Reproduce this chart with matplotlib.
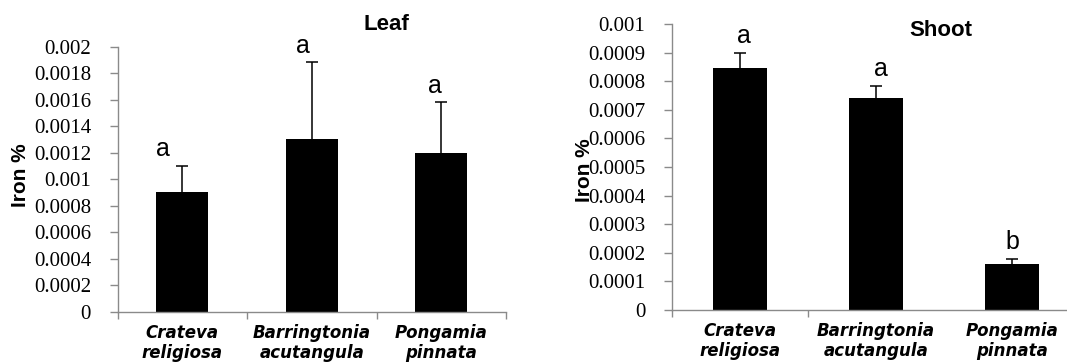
import matplotlib
matplotlib.use("Agg")
import matplotlib.pyplot as plt
import numpy as np

categories = ["Crateva\nreligiosa", "Barringtonia\nacutangula", "Pongamia\npinnata"]

leaf_values = [0.0009, 0.0013, 0.0012]
leaf_errors = [0.0002, 0.00058, 0.00038]
leaf_letters = ["a", "a", "a"]
leaf_yticks = [0, 0.0002, 0.0004, 0.0006, 0.0008, 0.001, 0.0012, 0.0014, 0.0016, 0.0018, 0.002]
leaf_yticklabels = ["0", "0.0002", "0.0004", "0.0006", "0.0008", "0.001", "0.0012",
                    "0.0014", "0.0016", "0.0018", "0.002"]

shoot_values = [0.000847, 0.000742, 0.00016]
shoot_errors = [0.000053, 0.000042, 0.00002]
shoot_letters = ["a", "a", "b"]
shoot_yticks = [0, 0.0001, 0.0002, 0.0003, 0.0004, 0.0005, 0.0006, 0.0007, 0.0008, 0.0009, 0.001]
shoot_yticklabels = ["0", "0.0001", "0.0002", "0.0003", "0.0004", "0.0005", "0.0006",
                     "0.0007", "0.0008", "0.0009", "0.001"]

W, H = 1067, 362
fig = plt.figure(figsize=(W / 100, H / 100), dpi=100)

SPINE = "#8a8a8a"


def px_axes(left, top, right, bottom):
    return fig.add_axes([left / W, 1 - bottom / H, (right - left) / W, (bottom - top) / H])


def draw(ax, values, errors, letters, yticks, yticklabels, ymax, title, title_xy,
         ylabel_xy, letter_dx, major_boundaries):
    x = np.arange(len(values))
    ax.bar(x, values, width=0.4, color="black", edgecolor="none", zorder=2)
    ax.errorbar(x, values, yerr=errors, fmt="none", ecolor="black", elinewidth=1.1,
                capsize=4, capthick=1.1, zorder=3)
    ax.set_ylim(0, ymax)
    ax.set_yticks(yticks)
    ax.set_yticklabels(yticklabels)
    for t in ax.get_yticklabels():
        t.set_fontfamily("Liberation Serif")
        t.set_fontsize(15)
    ax.set_xticks(x)
    ax.set_xticklabels(categories)
    for t in ax.get_xticklabels():
        t.set_fontfamily("DejaVu Sans")
        t.set_fontsize(12)
        t.set_fontweight("bold")
        t.set_fontstyle("italic")
        t.set_linespacing(1.1)
    ax.tick_params(axis="x", which="major", length=0, pad=9)
    ax.set_xticks(major_boundaries, minor=True)
    ax.tick_params(axis="x", which="minor", length=5, color=SPINE, width=1, direction="out")
    ax.tick_params(axis="y", length=6, color=SPINE, width=1, direction="out", pad=13)
    for s in ["top", "right"]:
        ax.spines[s].set_visible(False)
    for s in ["left", "bottom"]:
        ax.spines[s].set_color(SPINE)
        ax.spines[s].set_linewidth(1)
    for i, (v, e, l) in enumerate(zip(values, errors, letters)):
        ax.annotate(l, xy=(i + letter_dx[i], v + e), xytext=(0, 12), textcoords="offset points",
                    ha="center", va="center", fontsize=18, family="Liberation Sans")
    fig.text(title_xy[0] / W, 1 - title_xy[1] / H, title, ha="center", va="center",
             fontsize=16, fontweight="bold", family="Liberation Sans")
    fig.text(ylabel_xy[0] / W, 1 - ylabel_xy[1] / H, "Iron %", ha="center", va="center",
             rotation=90, fontsize=15, fontweight="bold", family="Liberation Sans")


ax1 = px_axes(117.5, 46.5, 506, 311.7)
ax1.set_xlim(-0.5, 2.5)
draw(ax1, leaf_values, leaf_errors, leaf_letters, leaf_yticks, leaf_yticklabels, 0.002,
     "Leaf", (386, 25), (20, 175), [-0.15, -0.07, -0.05], [-0.5, 0.5, 1.5, 2.5])

ax2 = px_axes(671.7, 24, 1080, 310)
ax2.set_xlim(-0.5, 2.5)
draw(ax2, shoot_values, shoot_errors, shoot_letters, shoot_yticks, shoot_yticklabels, 0.001,
     "Shoot", (941, 30), (584, 170), [0.03, 0.04, 0.0], [-0.5, 0.5])

fig.savefig("out.png", dpi=100)
